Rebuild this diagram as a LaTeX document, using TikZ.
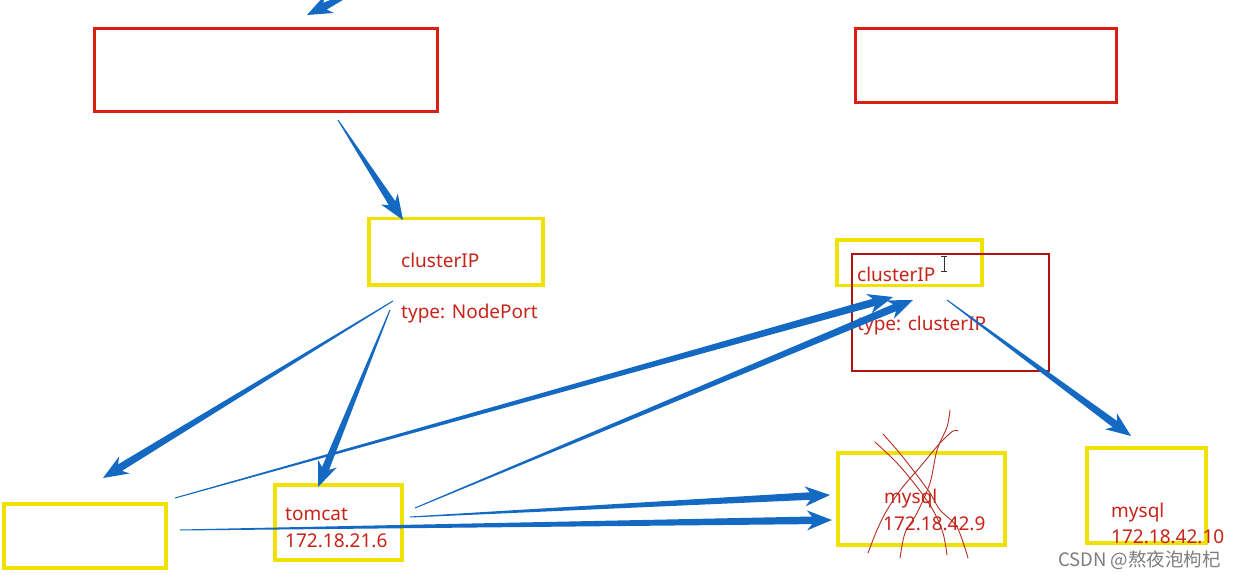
\documentclass[tikz,border=0pt]{standalone}
\usepackage{fontspec}
\setmainfont{Noto Sans}
\newfontfamily\cjkfont{Noto Sans CJK SC}
\usetikzlibrary{calc}
\definecolor{arrowblue}{RGB}{20,105,195}
\definecolor{yellowbox}{RGB}{240,226,0}
\definecolor{redbox}{RGB}{218,30,20}
\definecolor{darkredbox}{RGB}{175,20,20}
\definecolor{textred}{RGB}{200,35,25}
\definecolor{scribble}{RGB}{180,45,35}
\definecolor{wmgray}{RGB}{125,125,125}
\tikzset{
  ybox/.style={draw=yellowbox, line width=3.5pt, inner sep=0pt, anchor=north west},
  rbox/.style={draw=redbox, line width=3pt, inner sep=0pt, anchor=north west},
  drbox/.style={draw=darkredbox, line width=2pt, inner sep=0pt, anchor=north west},
  lbl/.style={text=textred, font=\fontsize{19}{22}\selectfont, inner sep=0pt, anchor=base west},
  scr/.style={draw=scribble, line width=0.9pt, line cap=round},
}
% tapered arrow: #1 tail, #2 tip
\newcommand\taparrow[2]{%
  \coordinate (hA) at ($(#2)!20pt!(#1)$);
  \coordinate (hB) at ($(#2)!25pt!(#1)$);
  \fill[arrowblue] ($(#1)!0.5pt!90:(#2)$) -- ($(hA)!3.8pt!90:(#2)$) -- ($(hB)!10pt!90:(#2)$)
    -- (#2) -- ($(hB)!10pt!-90:(#2)$) -- ($(hA)!3.8pt!-90:(#2)$) -- ($(#1)!0.5pt!-90:(#2)$) -- cycle;
}
\begin{document}
\begin{tikzpicture}[x=1pt,y=-1pt]
\useasboundingbox (0,0) rectangle (1245,580);
\fill[white] (0,0) rectangle (1245,580);
\clip (0,0) rectangle (1245,580);

% boxes (anchored at their outer corner)
\node[rbox, minimum width=343pt, minimum height=83pt] (top1) at (93,27) {};
\node[rbox, minimum width=261pt, minimum height=74pt] (top2) at (854,27) {};
\node[ybox, minimum width=174pt, minimum height=66pt] (cip1) at (367,217) {};
\node[ybox, minimum width=145pt, minimum height=45pt] (cip2) at (835,238.5) {};
\node[drbox, minimum width=197pt, minimum height=117pt] (svc2) at (851,253) {};
\node[ybox, minimum width=162pt, minimum height=64pt] (empty) at (2,502) {};
\node[ybox, minimum width=127pt, minimum height=75pt] (tomcat) at (273,483) {};
\node[ybox, minimum width=167pt, minimum height=92pt] (mysqlA) at (836,451) {};
\node[ybox, minimum width=119pt, minimum height=95pt] (mysqlB) at (1085,446) {};

% labels
\node[lbl] (l1) at (401,267) {clusterIP};
\node[lbl] (l2) at (401,318) {type: NodePort};
\node[lbl] (l3) at (857,281) {clusterIP};
\node[lbl] (l4) at (857,330) {type: clusterIP};
\node[lbl] (l5) at (285,520) {tomcat};
\node[lbl] (l6) at (285,547) {172.18.21.6};
\node[lbl] (l7) at (884,503) {mysql};
\node[lbl] (l8) at (883,530) {172.18.42.9};
\node[lbl] (l9) at (1111,517) {mysql};
\node[lbl] (l10) at (1111,543) {172.18.42.10};
\node[text=wmgray, font=\cjkfont\fontsize{18.5}{20}\selectfont, inner sep=0pt, anchor=base west] (wm) at (1058,566) {CSDN @熬夜泡枸杞};

% arrow end points
\coordinate (a0t) at (362,-12); \coordinate (a0h) at (307,15);
\coordinate (a1t) at (338,120); \coordinate (a1h) at (403,220);
\coordinate (a2t) at (393,301); \coordinate (a2h) at (103,478);
\coordinate (a3t) at (390,310); \coordinate (a3h) at (318,487);
\coordinate (a4t) at (175,498); \coordinate (a4h) at (893,297);
\coordinate (a5t) at (415,508); \coordinate (a5h) at (913,300);
\coordinate (a6t) at (410,517); \coordinate (a6h) at (830,495);
\coordinate (a7t) at (180,530); \coordinate (a7h) at (832,520);
\coordinate (a8t) at (947,300); \coordinate (a8h) at (1131,436);

\taparrow{a0t}{a0h}
\taparrow{a1t}{a1h}
\taparrow{a2t}{a2h}
\taparrow{a3t}{a3h}
\taparrow{a4t}{a4h}
\taparrow{a5t}{a5h}
\taparrow{a6t}{a6h}
\taparrow{a7t}{a7h}
\taparrow{a8t}{a8h}

% scribbles over the first mysql
\draw[scr] plot[smooth] coordinates {(950,410) (947,427) (937,450) (930,483) (917,513) (905,533) (900,558)};
\draw[scr] plot[smooth] coordinates {(958,431) (953,431) (940,443) (920,467) (902,488) (887,510) (877,530) (868,553)};
\draw[scr] plot[smooth] coordinates {(875,442) (897,463) (917,487) (933,510) (943,533) (947,555)};
\draw[scr] plot[smooth] coordinates {(883,434) (897,450) (913,470) (930,493) (940,510) (957,527) (968,558)};

% text cursor
\draw[black!80, line width=1pt] (944,256) -- (944,271) (941,256) -- (947,256) (941,271) -- (947,271);
\end{tikzpicture}
\end{document}
